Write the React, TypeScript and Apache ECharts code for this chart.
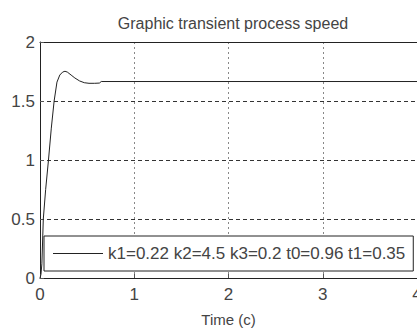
import React, { useEffect, useRef } from "react";
import * as echarts from "echarts";

const titleText = "Graphic transient process speed";
const xName = "Time (c)";
const seriesName = "k1=0.22 k2=4.5 k3=0.2 t0=0.96 t1=0.35";
const timeValues = [0, 0.01, 0.02, 0.035, 0.06, 0.09, 0.12, 0.15, 0.18, 0.21, 0.24, 0.265, 0.29, 0.33, 0.37, 0.42, 0.47, 0.52, 0.58, 0.63, 0.65, 4];
const speedValues = [0, 0.03, 0.12, 0.5, 0.75, 1.0, 1.27, 1.5, 1.66, 1.72, 1.745, 1.752, 1.745, 1.72, 1.695, 1.67, 1.655, 1.65, 1.65, 1.652, 1.665, 1.665];

const FONT = "'Liberation Sans', Arial, sans-serif";

export default function App() {
  const ref = useRef<HTMLDivElement>(null);
  useEffect(() => {
    if (!ref.current) return;
    const chart = echarts.init(ref.current, undefined, { renderer: "svg" });
    const data = timeValues.map((t, i) => [t, speedValues[i]]);
    chart.setOption({
      animation: false,
      backgroundColor: "#fff",
      textStyle: { fontFamily: FONT },
      title: {
        text: titleText,
        left: 228,
        top: 10,
        textAlign: "center",
        textStyle: { fontFamily: FONT, fontSize: 16, fontWeight: "normal", color: "#444" },
      },
      grid: { left: 40, right: 0, top: 42, bottom: 51, containLabel: false, outerBoundsMode: "none" },
      legend: {
        show: true,
        data: [{ name: seriesName, icon: "rect" }],
        left: 44,
        top: 236,
        padding: [9, 8, 9, 9],
        itemWidth: 50,
        itemHeight: 1,
        itemGap: 0,
        backgroundColor: "#fff",
        borderColor: "#222",
        borderWidth: 1,
        itemStyle: { color: "#222" },
        textStyle: { fontFamily: FONT, fontSize: 17, color: "#444" },
      },
      xAxis: [
        {
          type: "value",
          min: 0,
          max: 4,
          interval: 1,
          name: xName,
          nameLocation: "middle",
          nameGap: 34,
          nameTextStyle: { fontFamily: FONT, fontSize: 15, color: "#444" },
          axisLine: { show: true, lineStyle: { color: "#222", width: 1 } },
          axisTick: { show: true, inside: true, length: 4, lineStyle: { color: "#555" } },
          axisLabel: { show: true, fontFamily: FONT, fontSize: 17, color: "#444", margin: 8, showMaxLabel: true, hideOverlap: false },
          splitLine: { show: true, lineStyle: { color: "#888", type: [2, 3], width: 1 } },
        },
        {
          type: "value",
          position: "top",
          min: 0,
          max: 4,
          interval: 1,
          axisLine: { show: true, lineStyle: { color: "#222", width: 1 } },
          axisTick: { show: false },
          axisLabel: { show: false },
          splitLine: { show: false },
        },
      ],
      yAxis: {
        type: "value",
        min: 0,
        max: 2,
        interval: 0.5,
        axisLine: { show: true, lineStyle: { color: "#222", width: 1 } },
        axisTick: { show: true, inside: true, length: 4, lineStyle: { color: "#555" } },
        axisLabel: { show: true, fontFamily: FONT, fontSize: 17, color: "#444", margin: 5 },
        splitLine: { show: true, lineStyle: { color: "#333", type: [4, 3], width: 1 } },
      },
      series: [
        {
          name: seriesName,
          type: "line",
          data,
          symbol: "none",
          smooth: false,
          lineStyle: { color: "#222", width: 1 },
          itemStyle: { color: "#222" },
        },
      ],
    });
    return () => chart.dispose();
  }, []);
  return (
    <div
      ref={ref}
      style={{ position: "absolute", left: 0, top: 0, width: 417, height: 329 }}
    />
  );
}
